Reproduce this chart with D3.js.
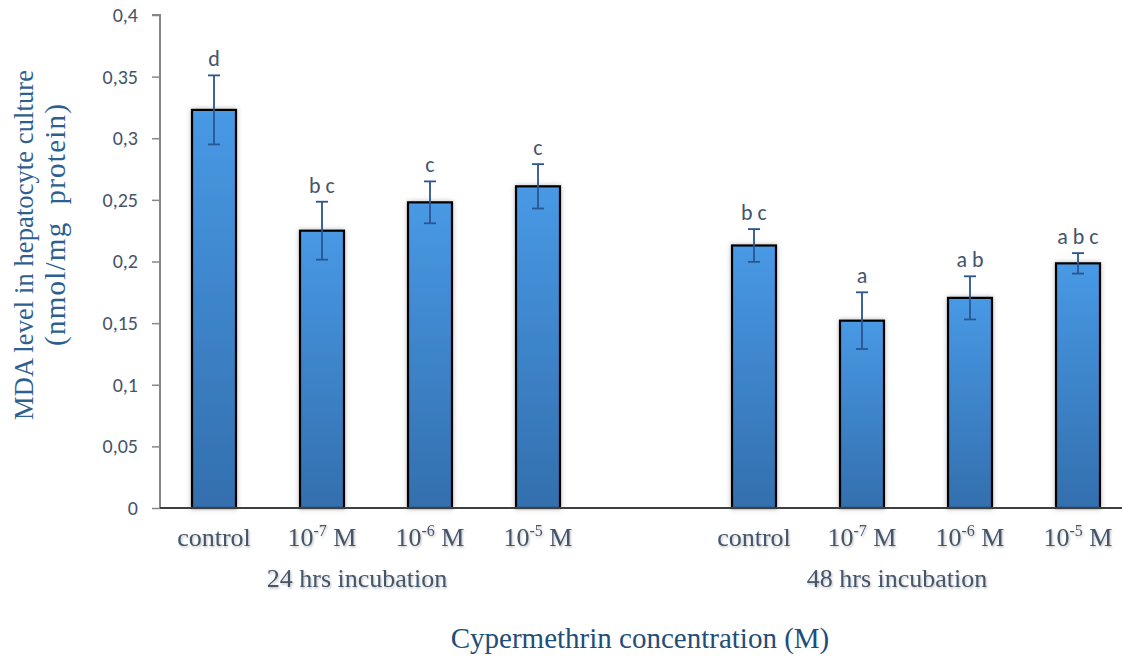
<!DOCTYPE html>
<html>
<head>
<meta charset="utf-8">
<script src="https://cdn.jsdelivr.net/npm/d3@7/dist/d3.min.js"></script>
<style>
  html, body { margin: 0; padding: 0; background: #ffffff; }
  svg { display: block; }
</style>
</head>
<body>
<svg id="chart" width="1122" height="657"></svg>
<script>
// ---- data ----
const doses = ["control", "-7", "-6", "-5"];
const groups = ["24 hrs incubation", "48 hrs incubation"];
const values24 = [0.323, 0.225, 0.248, 0.261];
const errors24 = [0.028, 0.0235, 0.017, 0.018];
const values48 = [0.213, 0.152, 0.1705, 0.1985];
const errors48 = [0.0133, 0.023, 0.0175, 0.0083];
const letters24 = ["d", "b c", "c", "c"];
const letters48 = ["b c", "a", "a b", "a b c"];
const yTicks = [0, 0.05, 0.1, 0.15, 0.2, 0.25, 0.3, 0.35, 0.4];
const yTickLabels = ["0", "0,05", "0,1", "0,15", "0,2", "0,25", "0,3", "0,35", "0,4"];
const yTitle = ["MDA level in hepatocyte culture", "(nmol/mg  protein)"];
const xTitle = "Cypermethrin concentration (M)";

(function () {
// build rows
const rows = [];
[ [values24, errors24, letters24], [values48, errors48, letters48] ].forEach((g, gi) => {
  doses.forEach((d, i) => rows.push({ key: gi + "_" + i, group: gi, dose: d, value: g[0][i], err: g[1][i], letter: g[2][i] }));
});
const slots = [...rows.slice(0, 4).map(r => r.key), "gap", ...rows.slice(4).map(r => r.key)];

const svg = d3.select("#chart");
const mLeft = 160, mTop = 15, mBottom = 508;

const x = d3.scaleBand().domain(slots).range([mLeft, mLeft + 9 * 108]).padding(0);
const y = d3.scaleLinear().domain([0, 0.4]).range([mBottom, mTop]);
const barW = x.bandwidth() * 0.407;
const cx = k => x(k) + x.bandwidth() / 2;

// defs
const defs = svg.append("defs");
const grad = defs.append("linearGradient").attr("id", "barGrad")
  .attr("x1", 0).attr("y1", 0).attr("x2", 0).attr("y2", 1);
grad.append("stop").attr("offset", "0%").attr("stop-color", "#4899e5");
grad.append("stop").attr("offset", "100%").attr("stop-color", "#336fae");
const sh = defs.append("filter").attr("id", "shadow").attr("x", "-30%").attr("y", "-10%").attr("width", "160%").attr("height", "120%");
sh.append("feDropShadow").attr("dx", 0).attr("dy", 0).attr("stdDeviation", 2.5)
  .attr("flood-color", "#000").attr("flood-opacity", 0.28);
const tsh = defs.append("filter").attr("id", "tshadow").attr("x", "-10%").attr("y", "-30%").attr("width", "120%").attr("height", "160%");
tsh.append("feDropShadow").attr("dx", 1).attr("dy", 1.5).attr("stdDeviation", 1.2)
  .attr("flood-color", "#000").attr("flood-opacity", 0.25);

// y axis
const yAxis = d3.axisLeft(y).tickValues(yTicks).tickSize(8).tickPadding(14)
  .tickFormat((d, i) => yTickLabels[i]);
const gy = svg.append("g").attr("transform", `translate(${mLeft},0)`).call(yAxis);
gy.select(".domain").attr("stroke", "#878787").attr("stroke-width", 2).attr("d", `M-8,${mTop}H0V${mBottom}`);
gy.selectAll(".tick line").attr("stroke", "#878787").attr("stroke-width", 1.5);
gy.selectAll(".tick text").attr("fill", "#44546a").attr("font-size", 20)
  .attr("font-family", "Carlito, Calibri, Lato, sans-serif");

// bars
svg.append("g").selectAll("rect").data(rows).join("rect")
  .attr("x", d => cx(d.key) - barW / 2)
  .attr("y", d => y(d.value))
  .attr("width", barW)
  .attr("height", d => y(0) - y(d.value))
  .attr("fill", "url(#barGrad)")
  .attr("stroke", "#000")
  .attr("stroke-width", 2.2)
  .attr("filter", "url(#shadow)");

// x axis line
svg.append("line").attr("x1", mLeft).attr("x2", 1122).attr("y1", y(0)).attr("y2", y(0))
  .attr("stroke", "#3f3f3f").attr("stroke-width", 2.2);

// error bars
const eb = svg.append("g").attr("stroke", "#2a5590").attr("stroke-width", 1.8);
rows.forEach(d => {
  const c = cx(d.key);
  eb.append("line").attr("x1", c).attr("x2", c).attr("y1", y(d.value + d.err)).attr("y2", y(d.value - d.err));
  eb.append("line").attr("x1", c - 6).attr("x2", c + 6).attr("y1", y(d.value + d.err)).attr("y2", y(d.value + d.err));
  eb.append("line").attr("x1", c - 6).attr("x2", c + 6).attr("y1", y(d.value - d.err)).attr("y2", y(d.value - d.err));
});

// significance letters
svg.append("g").selectAll("text").data(rows).join("text")
  .attr("x", d => cx(d.key))
  .attr("y", d => y(d.value + d.err) - 9)
  .attr("text-anchor", "middle")
  .attr("font-family", "Carlito, Calibri, Lato, sans-serif")
  .attr("font-size", 22)
  .attr("fill", "#44546a")
  .attr("xml:space", "preserve")
  .text(d => d.letter);

// category labels
const serif = "'Liberation Serif', 'Times New Roman', serif";
const cl = svg.append("g").attr("font-family", serif).attr("font-size", 26).attr("fill", "#44546a")
  .attr("text-anchor", "middle").attr("filter", "url(#tshadow)");
rows.forEach(d => {
  const t = cl.append("text").attr("x", cx(d.key)).attr("y", 546);
  if (d.dose === "control") {
    t.text("control");
  } else {
    t.append("tspan").text("10");
    t.append("tspan").attr("font-size", 16).attr("dy", -10).text(d.dose);
    t.append("tspan").attr("dy", 10).text(" M");
  }
});

// group labels
groups.forEach((g, gi) => {
  const ks = rows.filter(r => r.group === gi).map(r => r.key);
  const mid = (cx(ks[1]) + cx(ks[2])) / 2 - 19;
  cl.append("text").attr("x", mid).attr("y", 587).text(g);
});

// axis titles
svg.append("text").attr("x", 640).attr("y", 648).attr("text-anchor", "middle")
  .attr("font-family", serif).attr("font-size", 29).attr("fill", "#1f4e79").text(xTitle);

const yt = svg.append("g").attr("font-family", serif).attr("fill", "#2e5f91")
  .attr("text-anchor", "middle");
yt.append("text").attr("transform", "translate(33,245) rotate(-90)").attr("font-size", 26.5)
  .attr("textLength", 350).attr("lengthAdjust", "spacing").text(yTitle[0]);
yt.append("text").attr("transform", "translate(65,225) rotate(-90)").attr("xml:space", "preserve")
  .attr("font-size", 29).attr("textLength", 242).attr("lengthAdjust", "spacing").text(yTitle[1]);
})();
</script>
</body>
</html>
